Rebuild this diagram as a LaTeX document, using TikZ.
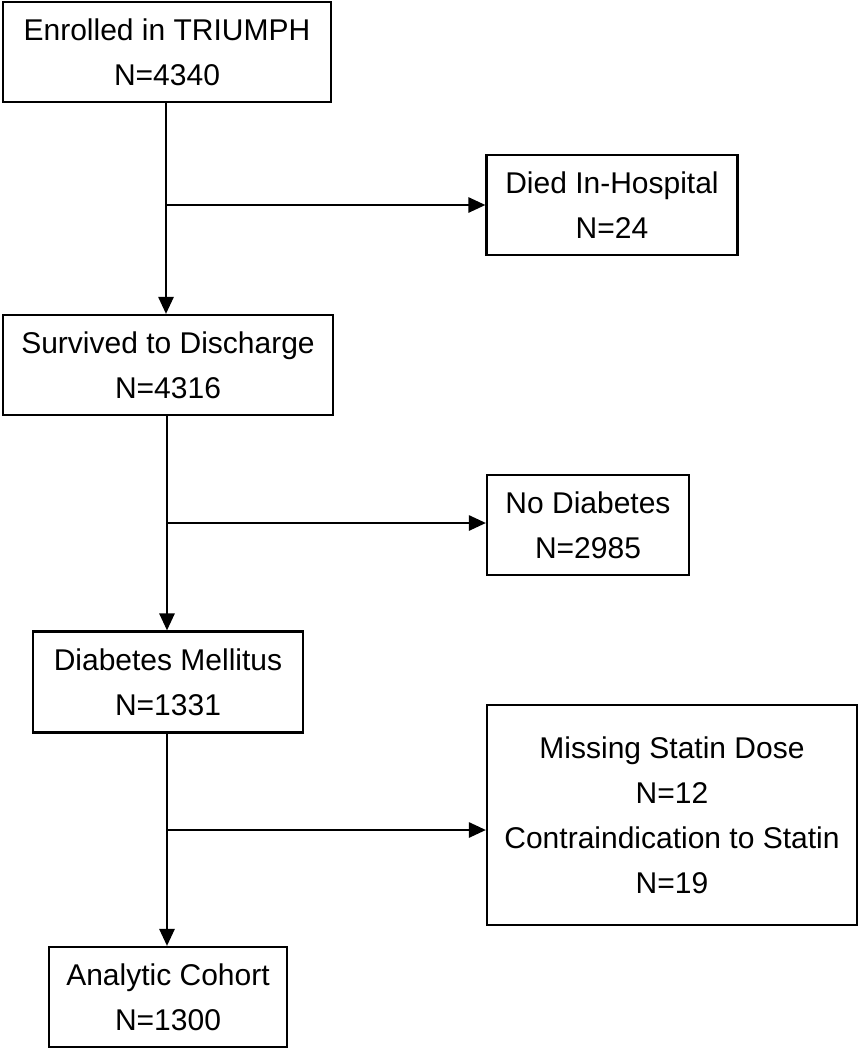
\documentclass[tikz,border=0pt]{standalone}
\usepackage{fontspec}
\setmainfont{Liberation Sans}
\usetikzlibrary{arrows.meta}
\begin{document}
\begin{tikzpicture}[x=1pt,y=-1pt,
  box/.style={draw=black, line width=2.1pt, align=center, inner sep=0pt,
    font=\fontsize{30}{45}\selectfont},
  conn/.style={line width=2.6pt, -{Triangle[length=17pt,width=15pt]}}]
\useasboundingbox (0,0) rectangle (862,1050);
\node[box, minimum width=328pt, minimum height=100pt] (b1) at (167,52) {Enrolled in TRIUMPH\\N=4340};
\node[box, minimum width=251pt, minimum height=100pt] (b2) at (612,205) {Died In-Hospital\\N=24};
\node[box, minimum width=330pt, minimum height=100pt] (b3) at (168,365) {Survived to Discharge\\N=4316};
\node[box, minimum width=202pt, minimum height=100pt] (b4) at (588,525) {No Diabetes\\N=2985};
\node[box, minimum width=270pt, minimum height=101pt] (b5) at (168,682) {Diabetes Mellitus\\N=1331};
\node[box, minimum width=370pt, minimum height=220pt] (b6) at (672,815) {Missing Statin Dose\\N=12\\Contraindication to Statin\\N=19};
\node[box, minimum width=238pt, minimum height=100pt] (b7) at (168,997) {Analytic Cohort\\N=1300};
\coordinate (j1) at (166,205);
\coordinate (j2) at (167,523);
\coordinate (j3) at (167,830);
\draw[conn] (b1.south -| j1) -- (b3.north -| j1);
\draw[conn] (j1) -- (j1 -| b2.west);
\draw[conn] (b3.south -| j2) -- (b5.north -| j2);
\draw[conn] (j2) -- (j2 -| b4.west);
\draw[conn] (b5.south -| j3) -- (b7.north -| j3);
\draw[conn] (j3) -- (j3 -| b6.west);
\end{tikzpicture}
\end{document}
